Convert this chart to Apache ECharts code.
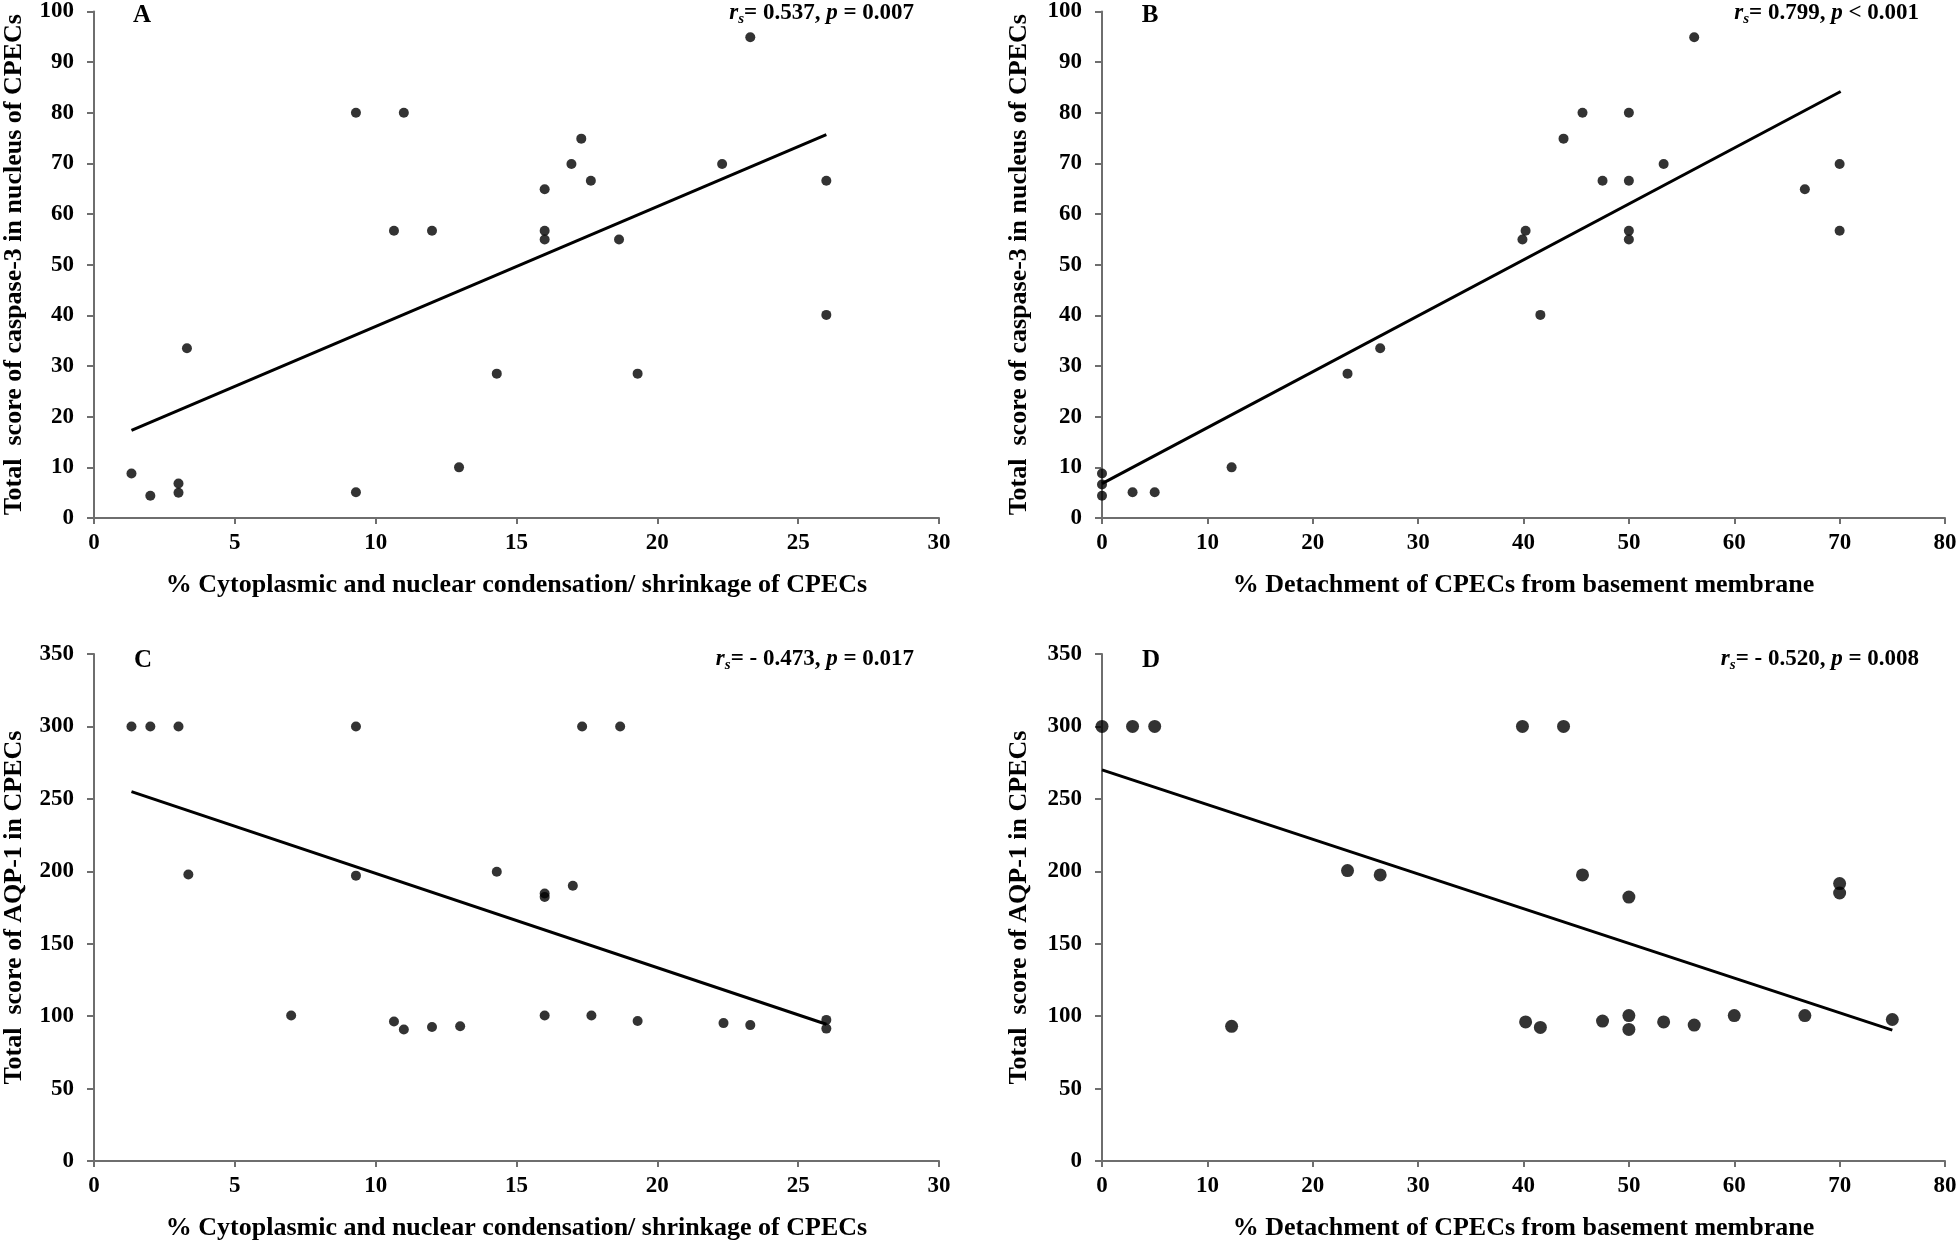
<!DOCTYPE html>
<html>
<head>
<meta charset="utf-8">
<script src="https://cdn.jsdelivr.net/npm/echarts@6/dist/echarts.min.js"></script>
<style>
html,body{margin:0;padding:0;background:#fff;}
#c{width:1960px;height:1244px;}
</style>
</head>
<body>
<div id="c"></div>
<script>
// ---- Data ----
const xA = [1.33,2.0,3.0,3.0,3.3,9.3,9.3,10.65,11.0,12.0,12.96,14.3,16.0,16.0,16.0,16.95,17.3,17.64,18.64,19.3,22.3,23.3,26.0,26.0];
const yA = [8.8,4.4,6.8,5.0,33.5,80,5.1,56.7,80,56.7,10,28.5,64.9,56.7,55,69.9,74.9,66.6,55,28.5,69.9,94.9,66.6,40.1];
const trendA = [[1.33,17.3],[26.0,75.7]];

const xB = [0,0,0,2.9,5.0,12.3,23.3,26.4,39.9,40.2,41.6,43.8,45.6,47.5,50,50,50,50,53.3,56.2,66.7,70.0,70.0];
const yB = [8.8,6.6,4.4,5.1,5.1,10,28.5,33.5,55,56.7,40.1,74.9,80,66.6,80,66.6,56.7,55,69.9,94.9,64.9,69.9,56.7];
const trendB = [[0,6.8],[70.1,84.2]];

const xC = [1.33,2.0,3.0,3.35,7.0,9.3,9.3,10.65,11.0,12.0,13.0,14.3,16.0,16.0,16.0,17.0,17.33,17.66,18.68,19.3,22.35,23.3,26.0,26.0];
const yC = [300,300,300,197.8,100.4,300,197,96.3,90.8,92.5,93,199.7,184.7,182.2,100.4,190,300,100.4,300,96.6,95.2,93.8,97.4,91.4];
const trendC = [[1.33,255],[26.0,94.4]];

const xD = [0,2.9,5.0,12.3,23.3,26.4,39.9,40.2,41.6,43.8,45.6,47.5,50,50,50,53.3,56.2,60,66.7,70,70,75];
const yD = [300,300,300,93,200.5,197.5,300,96,92.2,300,197.5,96.6,182.2,100.4,90.8,96,93.8,100.4,100.4,191.5,185,97.7];
const trendD = [[0,270],[75,90.3]];

const xTitleAC = '% Cytoplasmic and nuclear condensation/ shrinkage of CPECs';
const xTitleBD = '% Detachment of CPECs from basement membrane';
const yTitleAB = 'Total  score of caspase-3 in nucleus of CPECs';
const yTitleCD = 'Total  score of AQP-1 in CPECs';
const panelLabels = ['A','B','C','D'];
const statsText = [
  ['0.537', '= 0.007'],
  ['0.799', '< 0.001'],
  ['- 0.473', '= 0.017'],
  ['- 0.520', '= 0.008']
];

// ---- Styling ----
const FONT = '"Liberation Serif", "Times New Roman", serif';
const AXIS_COLOR = '#6e6e6e';
const TITLE_SIZE = 26;
const TICK_SIZE = 23;
const zip = (xs, ys) => xs.map((x, i) => [x, ys[i]]);

const grids = [
  {left: 93,   top: 11,  width: 846, height: 507},
  {left: 1102, top: 11,  width: 843, height: 507},
  {left: 93,   top: 654, width: 846, height: 507},
  {left: 1102, top: 654, width: 843, height: 507}
];

function xAxis(i, max, interval, name, gap) {
  return {
    type: 'value', gridIndex: i, min: 0, max: max, interval: interval,
    name: name, nameLocation: 'middle', nameGap: gap,
    nameTextStyle: {fontFamily: FONT, fontWeight: 'bold', fontSize: TITLE_SIZE, color: '#000'},
    axisLine: {show: true, onZero: false, lineStyle: {color: AXIS_COLOR, width: 2}},
    axisTick: {show: true, length: 6, lineStyle: {color: AXIS_COLOR, width: 2}},
    axisLabel: {fontFamily: FONT, fontWeight: 'bold', fontSize: TICK_SIZE, color: '#000', margin: 14},
    splitLine: {show: false}
  };
}
function yAxis(i, max, interval, name, gap) {
  return {
    type: 'value', gridIndex: i, min: 0, max: max, interval: interval,
    name: name, nameLocation: 'middle', nameGap: gap, nameRotate: 90,
    nameTextStyle: {fontFamily: FONT, fontWeight: 'bold', fontSize: TITLE_SIZE, color: '#000'},
    axisLine: {show: true, onZero: false, lineStyle: {color: AXIS_COLOR, width: 2}},
    axisTick: {show: true, length: 7, lineStyle: {color: AXIS_COLOR, width: 2}},
    axisLabel: {fontFamily: FONT, fontWeight: 'bold', fontSize: TICK_SIZE, color: '#000', margin: 20},
    splitLine: {show: false}
  };
}

function scatter(i, data, size) {
  return {type: 'scatter', xAxisIndex: i, yAxisIndex: i, data: data, symbol: 'circle',
    symbolSize: size, itemStyle: {color: '#000'}, silent: true, z: 3};
}
function trend(i, data) {
  return {type: 'line', xAxisIndex: i, yAxisIndex: i, data: data, symbol: 'none',
    lineStyle: {color: '#000', width: 3}, silent: true, z: 2};
}

const rich = {
  i: {fontFamily: FONT, fontWeight: 'bold', fontStyle: 'italic', fontSize: 23, fill: '#000', color: '#000'},
  s: {fontFamily: FONT, fontWeight: 'bold', fontStyle: 'italic', fontSize: 15, fill: '#000', color: '#000', padding: [12, 0, 0, 0]},
  n: {fontFamily: FONT, fontWeight: 'bold', fontSize: 23, fill: '#000', color: '#000'}
};

const labelPos = [[142, 16], [1150, 16], [143, 661], [1151, 661]];
const statPos = [[914, 13], [1919, 13], [914, 659], [1919, 659]];

const graphics = [];
panelLabels.forEach((t, k) => {
  graphics.push({type: 'text', x: labelPos[k][0], y: labelPos[k][1], silent: true,
    style: {text: t, fontFamily: FONT, fontWeight: 'bold', fontSize: 25, fill: '#000', align: 'center', verticalAlign: 'middle'}});
});
statsText.forEach((s, k) => {
  graphics.push({type: 'text', x: statPos[k][0], y: statPos[k][1], silent: true,
    style: {text: '{i|r}{s|s}{n|= ' + s[0] + ', }{i|p}{n| ' + s[1] + '}', rich: rich,
      align: 'right', verticalAlign: 'middle'}});
});

const option = {
  animation: false,
  backgroundColor: '#fff',
  grid: grids,
  xAxis: [
    xAxis(0, 30, 5, xTitleAC, 54),
    xAxis(1, 80, 10, xTitleBD, 54),
    xAxis(2, 30, 5, xTitleAC, 54),
    xAxis(3, 80, 10, xTitleBD, 54)
  ],
  yAxis: [
    yAxis(0, 100, 10, yTitleAB, 67),
    yAxis(1, 100, 10, yTitleAB, 70),
    yAxis(2, 350, 50, yTitleCD, 67),
    yAxis(3, 350, 50, yTitleCD, 70)
  ],
  series: [
    trend(0, trendA), scatter(0, zip(xA, yA), 10),
    trend(1, trendB), scatter(1, zip(xB, yB), 10),
    trend(2, trendC), scatter(2, zip(xC, yC), 10),
    trend(3, trendD), scatter(3, zip(xD, yD), 13)
  ],
  graphic: graphics
};

const chart = echarts.init(document.getElementById('c'), null, {renderer: 'canvas'});
chart.setOption(option);
</script>
</body>
</html>
